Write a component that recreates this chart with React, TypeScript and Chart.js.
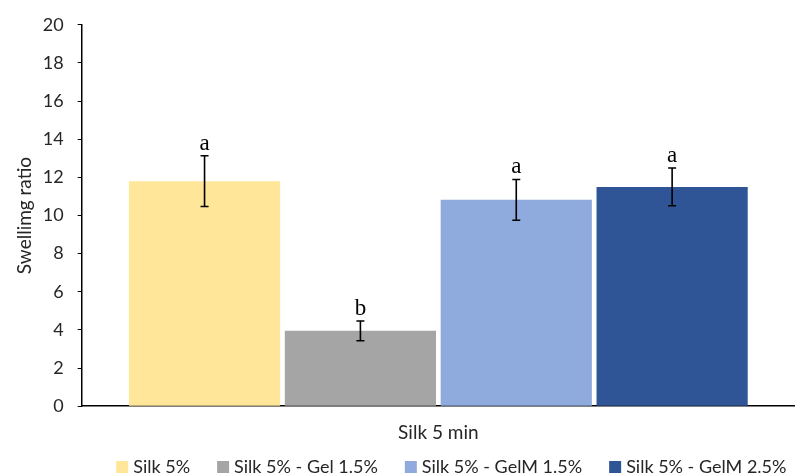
import React, { useEffect, useRef } from "react";
import { Chart, registerables } from "chart.js";

Chart.register(...registerables);

const categories = ["Silk 5 min"];
const seriesNames = ["Silk 5%", "Silk 5% - Gel 1.5%", "Silk 5% - GelM 1.5%", "Silk 5% - GelM 2.5%"];
const seriesMeans = [11.8, 3.95, 10.82, 11.5];
const seriesErrors = [1.33, 0.52, 1.07, 0.99];
const seriesLetters = ["a", "b", "a", "a"];
const seriesColors = ["#FFE699", "#A5A5A5", "#8FAADC", "#2F5597"];
const yTicks = [0, 2, 4, 6, 8, 10, 12, 14, 16, 18, 20];

const SANS = "Lato, 'Open Sans', sans-serif";
const TEXT = "#262626";

// Error bars with significance letters above each bar
const errorBarPlugin = {
  id: "errorBars",
  afterDatasetsDraw(chart: any) {
    const ctx = chart.ctx;
    const y = chart.scales.y;
    ctx.save();
    chart.data.datasets.forEach((ds: any, i: number) => {
      const meta = chart.getDatasetMeta(i);
      meta.data.forEach((bar: any, j: number) => {
        const mean = ds.data[j];
        const err = seriesErrors[i];
        const x = bar.x;
        const yTop = y.getPixelForValue(mean + err);
        const yBot = y.getPixelForValue(mean - err);
        ctx.strokeStyle = "#000";
        ctx.lineWidth = 1.6;
        ctx.beginPath();
        ctx.moveTo(x, yTop);
        ctx.lineTo(x, yBot);
        ctx.moveTo(x - 4, yTop);
        ctx.lineTo(x + 4, yTop);
        ctx.moveTo(x - 4, yBot);
        ctx.lineTo(x + 4, yBot);
        ctx.stroke();
        ctx.fillStyle = "#000";
        ctx.font = "23px 'Liberation Serif', 'DejaVu Serif', serif";
        ctx.textAlign = "center";
        ctx.textBaseline = "alphabetic";
        ctx.fillText(seriesLetters[i], x, yTop - 6);
      });
    });
    ctx.restore();
  },
};

// Legend row below the category label: square swatch, label, fixed gaps
const bottomLegendPlugin = {
  id: "bottomLegend",
  afterDraw(chart: any) {
    const ctx = chart.ctx;
    const box = 12;
    const textGap = 5;
    const itemGap = 27;
    ctx.save();
    ctx.font = `18px ${SANS}`;
    ctx.textBaseline = "middle";
    ctx.textAlign = "left";
    const widths = chart.data.datasets.map((ds: any) => box + textGap + ctx.measureText(ds.label).width);
    const total = widths.reduce((a: number, b: number) => a + b, 0) + itemGap * (widths.length - 1);
    const centerX = chart.chartArea.left + (chart.chartArea.right - chart.chartArea.left) / 2 + 13;
    let x = centerX - total / 2;
    const yMid = chart.height - 8;
    chart.data.datasets.forEach((ds: any, i: number) => {
      ctx.fillStyle = ds.backgroundColor;
      ctx.fillRect(x, yMid - box / 2, box, box);
      ctx.fillStyle = TEXT;
      ctx.fillText(ds.label, x + box + textGap, yMid);
      x += widths[i] + itemGap;
    });
    ctx.restore();
  },
};

export default function App() {
  const canvasRef = useRef<HTMLCanvasElement | null>(null);

  useEffect(() => {
    document.body.style.margin = "0";
    const canvas = canvasRef.current;
    if (!canvas) return;
    const chart = new Chart(canvas, {
      type: "bar",
      data: {
        labels: categories,
        datasets: seriesNames.map((name, i) => ({
          label: name,
          data: [seriesMeans[i]],
          backgroundColor: seriesColors[i],
          borderWidth: 0,
          barPercentage: 0.97,
          categoryPercentage: 0.874,
        })),
      },
      options: {
        animation: false,
        responsive: false,
        devicePixelRatio: 1,
        layout: { padding: { left: 13, right: 0, top: 16, bottom: 24 } },
        plugins: {
          legend: { display: false },
          tooltip: { enabled: false },
        },
        scales: {
          x: {
            grid: { display: false },
            border: { color: "#000", width: 1.5 },
            ticks: { color: TEXT, padding: 7, font: { family: SANS, size: 19 } },
          },
          y: {
            min: 0,
            max: 20,
            afterBuildTicks: (axis: any) => {
              axis.ticks = yTicks.map((v) => ({ value: v }));
            },
            grid: {
              display: true,
              drawOnChartArea: false,
              drawTicks: true,
              tickLength: 4,
              color: "#000",
            },
            border: { color: "#000", width: 1.5 },
            ticks: { color: TEXT, padding: 14, font: { family: SANS, size: 18 } },
            title: {
              display: true,
              text: "Swellimg ratio",
              color: TEXT,
              font: { family: SANS, size: 19 },
              padding: { top: 0, bottom: -7 },
            },
          },
        },
      },
      plugins: [errorBarPlugin, bottomLegendPlugin],
    });
    return () => chart.destroy();
  }, []);

  return (
    <div style={{ width: 795, height: 475 }}>
      <canvas ref={canvasRef} width={795} height={475} style={{ display: "block" }} />
    </div>
  );
}
